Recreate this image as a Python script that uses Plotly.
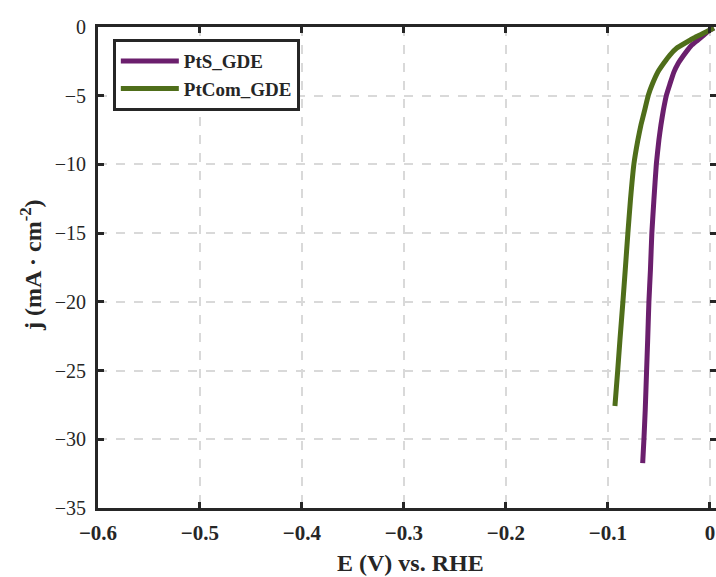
import plotly.graph_objects as go

# PtS_GDE (purple): potential (V vs RHE), current density (mA/cm2)
pts_E = [0.0039, -0.001, -0.0059, -0.0118, -0.0186, -0.0255, -0.0314, -0.0353, -0.0392,
         -0.0426, -0.0456, -0.048, -0.05, -0.0525, -0.0549, -0.0569, -0.0583, -0.0598,
         -0.061, -0.0621, -0.0634, -0.0647, -0.0659]
pts_j = [-0.07, -0.29, -0.58, -0.95, -1.38, -2.04, -2.69, -3.28, -4.15,
         -4.95, -6.04, -7.13, -8.22, -9.97, -12.59, -14.99, -17.68, -20.01,
         -22.78, -25.1, -27.87, -30.05, -31.73]

# PtCom_GDE (green)
ptc_E = [0.0039, -0.002, -0.0078, -0.0157, -0.0225, -0.0324, -0.0392, -0.0451, -0.051,
         -0.0564, -0.0603, -0.0637, -0.0676, -0.0706, -0.0745, -0.0779, -0.0804, -0.083,
         -0.0853, -0.0882, -0.0905, -0.0931]
ptc_j = [-0.07, -0.29, -0.51, -0.80, -1.09, -1.53, -2.04, -2.62, -3.27,
         -4.15, -4.95, -5.97, -7.13, -8.22, -9.97, -12.59, -14.99, -17.68,
         -20.01, -22.78, -25.1, -27.58]

x_ticks = [-0.6, -0.5, -0.4, -0.3, -0.2, -0.1, 0]
x_labels = ["\u22120.6", "\u22120.5", "\u22120.4", "\u22120.3", "\u22120.2", "\u22120.1", "0"]
y_ticks = [0, -5, -10, -15, -20, -25, -30, -35]
y_labels = ["0", "\u22125", "\u221210", "\u221215", "\u221220", "\u221225", "\u221230", "\u221235"]

names = ["PtS_GDE", "PtCom_GDE"]
colors = ["#6b1f6d", "#4f6e1a"]

FONT = "Liberation Serif"
AX = "#262626"

fig = go.Figure()
fig.add_trace(go.Scatter(x=pts_E, y=pts_j, mode="lines", name=names[0],
                         line=dict(color=colors[0], width=5, shape="spline", smoothing=0.4)))
fig.add_trace(go.Scatter(x=ptc_E, y=ptc_j, mode="lines", name=names[1],
                         line=dict(color=colors[1], width=5, shape="spline", smoothing=0.4)))
# invisible trace to carry the right-side tick axis
fig.add_trace(go.Scatter(x=[None], y=[None], yaxis="y2", showlegend=False,
                         hoverinfo="skip", mode="lines"))

fig.update_layout(
    width=716, height=577,
    margin=dict(l=98, r=0, t=27, b=69),
    paper_bgcolor="white", plot_bgcolor="white",
    font=dict(family=FONT, color=AX),
    showlegend=True,
    legend=dict(x=0.024, y=0.975, xanchor="left", yanchor="top",
                bordercolor=AX, borderwidth=3, bgcolor="white",
                font=dict(family=FONT, size=19, color=AX, weight="bold"),
                itemwidth=58, tracegroupgap=0),
    xaxis=dict(range=[-0.6, 0.006], tickvals=x_ticks, ticktext=x_labels,
               automargin=False,
               showline=True, linecolor=AX, linewidth=3, mirror="ticks",
               ticks="inside", ticklen=6, tickwidth=2.5, tickcolor=AX,
               showgrid=True, gridcolor="#d9d9d9", gridwidth=1.5, griddash="dash",
               zeroline=False,
               tickfont=dict(family=FONT, size=21, color=AX, weight="bold"),
               ticklabelstandoff=4),
    yaxis=dict(range=[-35, 0], tickvals=y_ticks, ticktext=y_labels,
               automargin=False,
               showline=True, linecolor=AX, linewidth=3, mirror=False,
               ticks="inside", ticklen=6, tickwidth=2.5, tickcolor=AX,
               showgrid=True, gridcolor="#d9d9d9", gridwidth=1.5, griddash="dash",
               zeroline=False,
               tickfont=dict(family=FONT, size=20, color=AX),
               ticklabelstandoff=5),
    yaxis2=dict(range=[-35, 0], overlaying="y", side="right", tickvals=y_ticks,
                automargin=False,
                showticklabels=False, showline=False, showgrid=False, zeroline=False,
                ticks="inside", ticklen=6, tickwidth=2.5, tickcolor=AX),
    annotations=[
        dict(text="E (V) vs. RHE", xref="paper", yref="paper",
             x=(410 - 98) / 618, y=(508 - 563) / 481, xanchor="center", yanchor="middle",
             showarrow=False, font=dict(family=FONT, size=24, color=AX, weight="bold")),
        dict(text="j (mA \u00b7 cm<sup>-2</sup>)", xref="paper", yref="paper",
             x=(31 - 98) / 618, y=(508 - 265) / 481, xanchor="center", yanchor="middle",
             textangle=-90, showarrow=False,
             font=dict(family=FONT, size=24, color=AX, weight="bold")),
    ],
)

fig.write_html("out.html", config={"displayModeBar": False},
               post_script="document.body.style.margin='0';document.body.style.padding='0';")
